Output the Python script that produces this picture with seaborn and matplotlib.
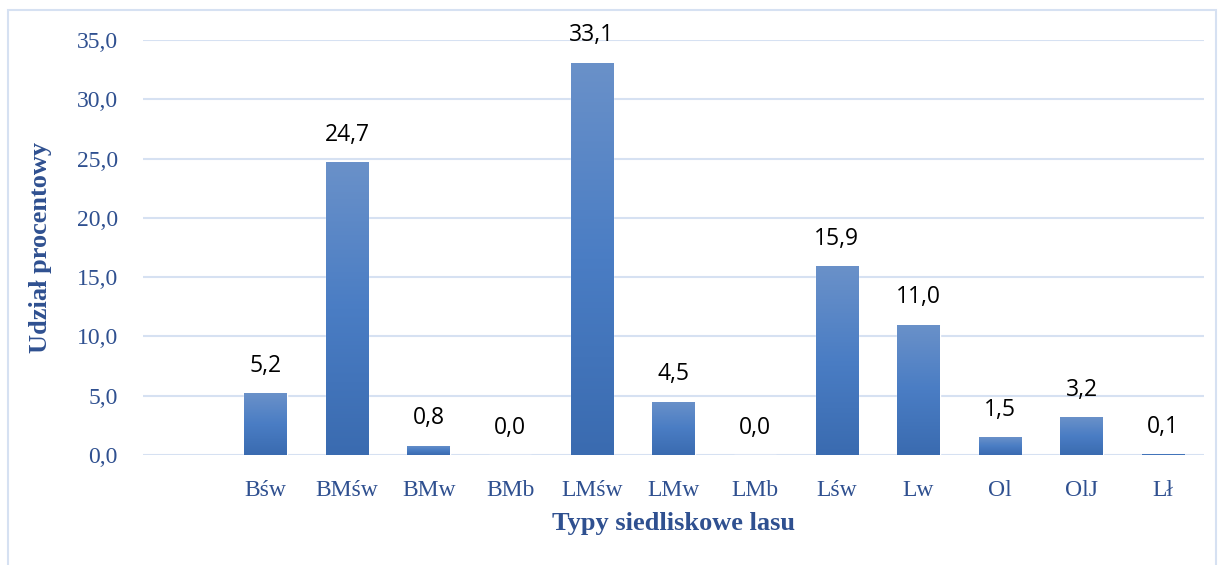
import numpy as np
import pandas as pd
import seaborn as sns
import matplotlib.pyplot as plt
from matplotlib.colors import LinearSegmentedColormap
from matplotlib.patches import Rectangle

# dane (pierwsza kategoria pusta)
typy = ['', 'Bśw', 'BMśw', 'BMw', 'BMb', 'LMśw', 'LMw', 'LMb', 'Lśw', 'Lw', 'Ol', 'OlJ', 'Lł']
udzial = [np.nan, 5.2, 24.7, 0.8, 0.0, 33.1, 4.5, 0.0, 15.9, 11.0, 1.5, 3.2, 0.1]

df = pd.DataFrame({'typ': typy, 'udzial': udzial})

sns.set_theme(style='white')
plt.rcParams['font.family'] = ['Liberation Serif', 'DejaVu Serif']

niebieski = '#2F5090'
siatka = '#D6E1F2'

fig = plt.figure(figsize=(12.24, 5.65), dpi=100)
ax = fig.add_axes([0.1168, 0.1947, 0.8669, 0.7345])

sns.barplot(data=df, x='typ', y='udzial', color='#4472C4', width=0.52, ax=ax)

# gradient w słupkach
cmap = LinearSegmentedColormap.from_list('grad', ['#3A6BB0', '#4A7DC4', '#6A91C9'])
grad = np.linspace(0, 1, 256).reshape(-1, 1)
for p in ax.patches:
    h = p.get_height()
    if np.isnan(h) or h <= 0:
        continue
    x0 = p.get_x()
    w = p.get_width()
    im = ax.imshow(grad, cmap=cmap, aspect='auto', origin='lower',
                   extent=[x0, x0 + w, 0, h], zorder=3)
    im.set_clip_path(p)
    p.set_zorder(2)

ax.set_xlim(-0.5, len(typy) - 0.5)
ax.set_ylim(0, 35)
ax.set_yticks(np.arange(0, 36, 5))
ax.set_yticklabels([f'{v:.1f}'.replace('.', ',') for v in np.arange(0, 36, 5)])
ax.grid(axis='y', color=siatka, lw=1.5)
ax.set_axisbelow(True)
for s in ax.spines.values():
    s.set_visible(False)

ax.tick_params(axis='both', length=0, labelsize=17, labelcolor=niebieski)
ax.tick_params(axis='y', pad=18)
ax.tick_params(axis='x', pad=18)

# etykiety wartości
for i, v in enumerate(udzial):
    if np.isnan(v):
        continue
    ax.annotate(f'{v:.1f}'.replace('.', ','), (i, v), xytext=(0, 11),
                textcoords='offset points', ha='center', va='bottom',
                fontsize=16.5, color='black', family=['Open Sans', 'DejaVu Sans'])

ax.set_xlabel('Typy siedliskowe lasu', fontsize=19, fontweight='bold', color=niebieski, labelpad=8)
ax.set_ylabel('Udział procentowy', fontsize=19, fontweight='bold', color=niebieski, labelpad=18)

# ramka wokół wykresu
fig.patches.append(Rectangle((8 / 1224, -0.05), 1208 / 1224, 1.05 - 10 / 565, transform=fig.transFigure,
                             fill=False, edgecolor='#D6E1F2', lw=1.5))

fig.savefig('out.png', dpi=100)
